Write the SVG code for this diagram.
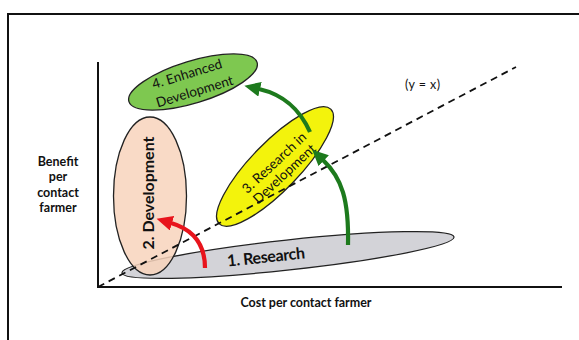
<svg xmlns="http://www.w3.org/2000/svg" width="579" height="340" viewBox="0 0 579 340">
  <style>
    text { font-family: Lato, "Liberation Sans", Arial, sans-serif; fill: #111; }
    .axis-label { font-size: 12.5px; font-weight: bold; text-anchor: middle; }
    .node-bold { font-size: 16px; font-weight: bold; text-anchor: middle; }
    .node-text { font-size: 13.5px; text-anchor: middle; }
    .blob { stroke: #222; stroke-width: 1.3; }
    .arrow { fill: none; stroke-width: 4.2; stroke-linecap: butt; }
  </style>
  <defs>
    <marker id="head-green" markerUnits="userSpaceOnUse" markerWidth="17" markerHeight="15" refX="1" refY="7.5" orient="auto">
      <path d="M0,0 L16,7.5 L0,15 z" fill="#1d7a1d"/>
    </marker>
    <marker id="head-red" markerUnits="userSpaceOnUse" markerWidth="17" markerHeight="15" refX="1" refY="7.5" orient="auto">
      <path d="M0,0 L16,7.5 L0,15 z" fill="#e8141c"/>
    </marker>
  </defs>

  <rect width="579" height="340" fill="#fff"/>

  <!-- outer frame (open on the right and bottom) -->
  <path d="M8,340 V14 H579" fill="none" stroke="#111" stroke-width="2"/>

  <!-- axes -->
  <path d="M98,62 V287 H562" fill="none" stroke="#111" stroke-width="2"/>

  <!-- axis labels -->
  <text class="axis-label" x="58" y="165.5">Benefit</text>
  <text class="axis-label" x="58" y="181">per</text>
  <text class="axis-label" x="58" y="196.5">contact</text>
  <text class="axis-label" x="58" y="212">farmer</text>
  <text class="axis-label" x="306" y="307" textLength="131">Cost per contact farmer</text>
  <text x="405" y="89" font-size="12.5" textLength="35">(y = x)</text>

  <!-- 1. Research -->
  <g id="node-research">
    <ellipse class="blob" cx="288" cy="255" rx="167" ry="15" transform="rotate(-6.2 288 255)" fill="#d3d3d8"/>
    <g transform="translate(266,257) rotate(-6)">
      <text class="node-bold" x="0" y="5.5" font-size="15.5" textLength="78">1. Research</text>
    </g>
  </g>

  <!-- 2. Development -->
  <g id="node-development">
    <ellipse class="blob" cx="150" cy="196" rx="36.5" ry="79" fill="#f8d3bc" fill-opacity="0.85"/>
    <g transform="translate(154,193) rotate(-90)">
      <text class="node-bold" x="0" y="0" textLength="113">2. Development</text>
    </g>
  </g>

  <!-- 3. Research in Development -->
  <g id="node-research-in-development">
    <ellipse class="blob" cx="275" cy="166.5" rx="80" ry="24" transform="rotate(-45.8 275 166.5)" fill="#f3f30c"/>
    <g transform="translate(279,168) rotate(-43)">
      <text class="node-text" x="0" y="-2.5">3. Research in</text>
      <text class="node-text" x="0" y="12.5">Development</text>
    </g>
  </g>

  <!-- 4. Enhanced Development -->
  <g id="node-enhanced-development">
    <ellipse class="blob" cx="193" cy="82" rx="67" ry="21" transform="rotate(-17 193 82)" fill="#7ec850"/>
    <g transform="translate(192,83) rotate(-17)">
      <text class="node-text" x="-2" y="-5.5">4. Enhanced</text>
      <text class="node-text" x="0" y="13.5">Development</text>
    </g>
  </g>

  <!-- break-even line -->
  <path d="M98,287 L516,67" fill="none" stroke="#111" stroke-width="1.8" stroke-dasharray="7,5"/>

  <!-- transitions between stages -->
  <g id="connectors">
    <path class="arrow" d="M205,268 C205,246 195,230 171,223" stroke="#e8141c" marker-end="url(#head-red)"/>
    <path class="arrow" d="M348,245 C349,200 342,178 323,160" stroke="#1d7a1d" marker-end="url(#head-green)"/>
    <path class="arrow" d="M310,132 C300,110 285,95 259,89" stroke="#1d7a1d" marker-end="url(#head-green)"/>
  </g>
</svg>
